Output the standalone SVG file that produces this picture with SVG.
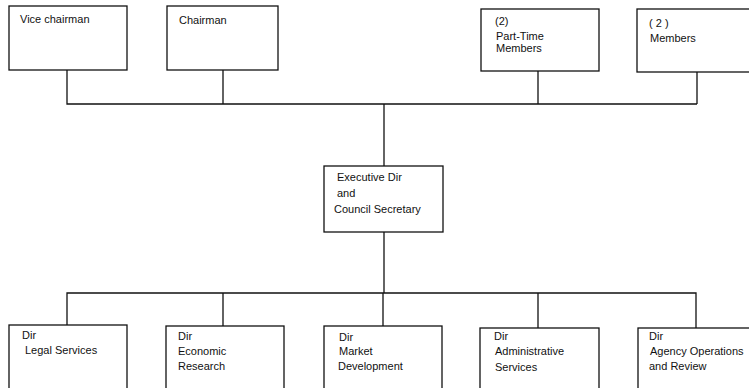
<svg xmlns="http://www.w3.org/2000/svg" width="749" height="388" viewBox="0 0 749 388">
<style>
.box{fill:#fff;stroke:#111;stroke-width:1.3}
.ln{fill:none;stroke:#111;stroke-width:1.3}
text{font-family:"Liberation Sans",Arial,sans-serif;font-size:11px;fill:#111}
</style>
<rect width="749" height="388" fill="#fff"/>
<g id="connectors">
<path class="ln" d="M67 70V104H697M223 70V104M538 71V104M697 72V104"/>
<path class="ln" d="M384 104V166"/>
<path class="ln" d="M384 232V293"/>
<path class="ln" d="M67 325V293H696V328M223 293V326M383 293V326M538 293V328"/>
</g>
<g id="vice-chairman"><rect class="box" x="9" y="6" width="118" height="64"/><text x="20" y="23">Vice chairman</text></g>
<g id="chairman"><rect class="box" x="167" y="6" width="111" height="64"/><text x="179" y="24">Chairman</text></g>
<g id="part-time-members"><rect class="box" x="481" y="9" width="118" height="62"/><text x="495" y="25">(2)</text><text x="496" y="39.5">Part-Time</text><text x="496" y="51.5">Members</text></g>
<g id="members"><rect class="box" x="637" y="9" width="120" height="63"/><text x="649" y="27">( 2 )</text><text x="650" y="42">Members</text></g>
<g id="executive-dir"><rect class="box" x="324" y="166" width="119" height="66"/><text x="337" y="181">Executive Dir</text><text x="337" y="197">and</text><text x="334" y="213">Council Secretary</text></g>
<g id="legal"><rect class="box" x="9" y="325" width="118" height="80"/><text x="22" y="339">Dir</text><text x="25" y="354">Legal Services</text></g>
<g id="economic"><rect class="box" x="166" y="326" width="118" height="80"/><text x="178" y="340">Dir</text><text x="178" y="355">Economic</text><text x="178" y="370">Research</text></g>
<g id="market"><rect class="box" x="324" y="326" width="118" height="80"/><text x="339" y="341">Dir</text><text x="339" y="355">Market</text><text x="338" y="370">Development</text></g>
<g id="administrative"><rect class="box" x="480" y="328" width="119" height="80"/><text x="494" y="340">Dir</text><text x="495" y="355">Administrative</text><text x="495" y="371">Services</text></g>
<g id="agency"><rect class="box" x="638" y="328" width="120" height="80"/><text x="649" y="340">Dir</text><text x="650" y="355">Agency Operations</text><text x="649" y="370">and Review</text></g>
</svg>
